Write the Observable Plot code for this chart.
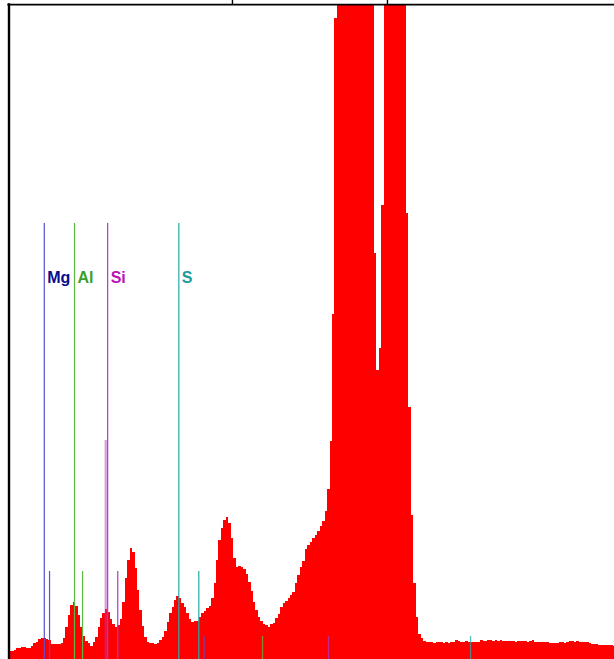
<!DOCTYPE html>
<html>
<head>
<meta charset="utf-8">
<script src="https://cdn.jsdelivr.net/npm/d3@7"></script>
<script src="https://cdn.jsdelivr.net/npm/@observablehq/plot@0.6"></script>
<style>
  html, body { margin: 0; padding: 0; background: #fff; }
  svg { display: block; }
</style>
</head>
<body>
<div id="chart"></div>
<script>
// ---- data -------------------------------------------------------------
// channel calibration (keV)
const channelStart = 0.9797;
const channelWidth = 0.01928;

// counts per channel
const counts = [
  7, 7, 8, 10, 10, 11, 11, 10, 10, 12, 15, 16, 19, 20, 20, 19, 18, 14, 14, 14,
  14, 15, 20, 31, 43, 53, 56, 52, 43, 31, 22, 17, 15, 12, 16, 21, 31, 40, 45, 49,
  46, 39, 34, 31, 33, 39, 56, 80, 98, 110, 106, 90, 68, 48, 32, 21, 16, 15, 15, 14,
  15, 18, 21, 27, 36, 45, 51, 58, 62, 60, 55, 51, 45, 39, 36, 37, 37, 41, 45, 47,
  50, 52, 60, 75, 98, 118, 130, 138, 141, 135, 120, 100, 91, 92, 91, 89, 84, 76, 67, 56,
  48, 41, 37, 34, 33, 31, 34, 35, 40, 44, 51, 55, 57, 60, 63, 66, 75, 83, 91, 97,
  109, 113, 116, 120, 123, 127, 132, 137, 147, 169, 217, 344, 640,
  980, 1450, 2050, 2700, 3300, 3750, 4050, 4150, 4000, 3650, 3150, 2550, 1900, 1300, 820,
  405, 288, 310, 453,
  760, 900, 1000, 1040, 1010, 930, 830, 730, 670,
  445, 251, 143, 75, 41, 24, 20, 17, 16,
  16, 16, 15, 16, 16, 16, 15, 16, 15, 16, 16, 18, 17,
  16, 16, 17, 16, 16, 16, 16, 16, 18, 17, 17, 18, 18, 17, 18, 17, 18,
  17, 17, 17, 17, 17, 16, 17, 17, 17, 17, 16, 17, 18,
  16, 16, 16, 16, 16, 16, 15, 15, 15, 15, 16, 16, 15, 16, 17, 17, 16, 17,
  16, 16, 16, 16, 15, 14, 14, 14, 13, 13, 13, 13, 13, 13, 12
];

// element marker lines (keV) and their marker heights (counts)
const elements   = ["Mg", "Al", "Si", "S"];
const lineElement = ["Mg", "Mg", "Al", "Al", "Si", "Si", "Si", "S", "S", "Mg", "Al", "Si", "S"];
const lineKind    = ["a", "b", "a", "b", "a", "esc", "b", "a", "b", "sum", "sum", "sum", "sum"];
const lineEnergy  = [1.254, 1.295, 1.490, 1.553, 1.749, 1.734, 1.828, 2.305, 2.461, 2.503, 2.959, 3.474, 4.584];
const lineTop     = [435, 87, 435, 87, 435, 218, 87, 435, 87, 22, 22, 22, 22];
const labelLevel  = 376;

// tick marks on the top edge (keV)
const topTicks = [2.724, 3.935];

// ---- styles -----------------------------------------------------------
const lineColor = {Mg: "#5a4fcf", Al: "#5cb845", Si: "#b436c4", S: "#26a9a9"};
const textColor = {Mg: "#0a0a8c", Al: "#3aa02a", Si: "#b814b8", S: "#1a9c9c"};

// ---- build ------------------------------------------------------------
const bins = counts.map((c, i) => ({
  x1: channelStart + i * channelWidth,
  x2: channelStart + (i + 1) * channelWidth,
  count: c
}));
const markers = lineEnergy.map((e, i) => ({
  energy: e, element: lineElement[i], kind: lineKind[i], top: lineTop[i]
}));
const labels = markers.filter(d => d.kind === "a");

const xMin = 0.99, xMax = 5.70875;

const chart = Plot.plot({
  width: 614,
  height: 659,
  marginTop: 5,
  marginRight: 0,
  marginBottom: 0,
  marginLeft: 10,
  x: {domain: [xMin, xMax], axis: null},
  y: {domain: [0, 653], range: [658, 5], axis: null},
  color: {type: "identity"},
  style: {background: "#fff", overflow: "visible"},
  marks: [
    Plot.rectY(bins, {
      x1: "x1", x2: "x2", y: "count", fill: "#ff0000",
      clip: true, insetBottom: -1, shapeRendering: "crispEdges"
    }),
    Plot.ruleX(markers.filter(d => d.kind === "a" || d.kind === "b"), {
      x: "energy", y1: "top", y2: 0, insetBottom: -1,
      stroke: d => lineColor[d.element], strokeWidth: 1.2
    }),
    Plot.ruleX(markers.filter(d => d.kind === "esc"), {
      x: "energy", y1: "top", y2: 0, insetBottom: -1,
      stroke: d => lineColor[d.element], strokeWidth: 2.2, strokeOpacity: 0.5
    }),
    Plot.ruleX(markers.filter(d => d.kind === "sum"), {
      x: "energy", y1: "top", y2: 0, insetBottom: -1,
      stroke: d => lineColor[d.element], strokeWidth: 1.3, strokeOpacity: 0.75
    }),
    Plot.text(labels, {
      x: "energy", y: labelLevel, text: "element",
      fill: d => textColor[d.element],
      textAnchor: "start", lineAnchor: "bottom", dx: 3,
      fontSize: 16, fontWeight: "bold",
      fontFamily: "'Liberation Sans', Arial, sans-serif"
    }),
    // top edge tick marks
    Plot.ruleX(topTicks, {x: d => d, y1: 653, y2: 653, insetTop: -5, stroke: "#000", strokeWidth: 1.4}),
    // frame: top and left borders
    Plot.ruleY([653], {stroke: "#000", strokeWidth: 1.8, dy: -0.9, insetLeft: -2.7}),
    Plot.ruleX([xMin], {stroke: "#000", strokeWidth: 2.4, dx: -1.5, insetTop: -1.7})
  ]
});

document.getElementById("chart").appendChild(chart);
</script>
</body>
</html>
